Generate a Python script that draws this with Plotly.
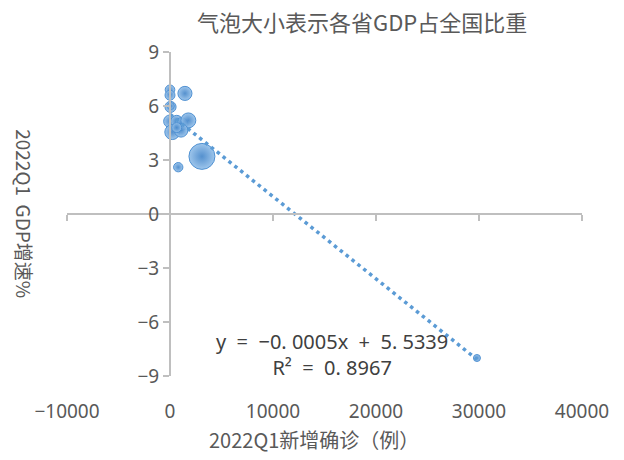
import numpy as np
import plotly.graph_objects as go

# 2022Q1 new confirmed cases, GDP growth (%), and GDP share of the nation (%)
new_cases = [0, 0, 1450, 50, 80, 0, 650, 1130, 1780, 220, 1070, 650, 3100, 800, 29800]
gdp_growth = [6.9, 6.6, 6.7, 5.95, 6.0, 5.15, 5.15, 5.0, 5.2, 4.55, 4.65, 4.8, 3.2, 2.6, -8.0]
gdp_share = [1.5, 1.6, 3.2, 2.0, 0.3, 2.6, 2.3, 2.6, 3.6, 3.6, 3.0, 1.6, 10.9, 1.4, 0.6]

x_ticks = [-10000, 0, 10000, 20000, 30000, 40000]
y_ticks = [-9, -6, -3, 0, 3, 6, 9]

title_text = "气泡大小表示各省GDP占全国比重"
x_title = "2022Q1新增确诊（例）"
y_title = "2022Q1&nbsp;&nbsp;GDP增速%"
eq_text = "y&nbsp;&nbsp;=&nbsp;&nbsp;−0.&nbsp;0005x&nbsp;&nbsp;+&nbsp;&nbsp;5.&nbsp;5339<br>R²&nbsp;&nbsp;=&nbsp;&nbsp;0.&nbsp;8967"

# linear trend through the provinces
slope, intercept = np.polyfit(new_cases, gdp_growth, 1)
trend_x = np.array([min(new_cases), max(new_cases)])
trend_y = slope * trend_x + intercept

BLUE = "#5b9bd5"
AXIS = "#bfbfbf"
TXT = "#595959"
CJK = "Noto Sans CJK SC"

fig = go.Figure()

fig.add_trace(go.Scatter(
    x=trend_x, y=trend_y, mode="lines", xaxis="x2",
    line=dict(color=BLUE, width=3.5, dash="3.5px,4px"),
    hoverinfo="skip", showlegend=False,
))

max_d = 26
fig.add_trace(go.Scatter(
    x=new_cases, y=gdp_growth, mode="markers",
    marker=dict(
        size=gdp_share, sizemode="area",
        sizeref=2.0 * max(gdp_share) / (max_d ** 2), sizemin=3.5,
        color="rgba(150,193,234,0.92)",
        gradient=dict(type="radial", color="rgba(70,135,202,0.92)"),
        line=dict(color="rgba(80,145,210,1)", width=1),
        opacity=1,
    ),
    showlegend=False,
))

axis_font = dict(family="Noto Sans, " + CJK, size=19, color=TXT)

fig.update_layout(
    width=624, height=460,
    margin=dict(l=67, r=42, t=52, b=84),
    paper_bgcolor="white", plot_bgcolor="white",
    xaxis=dict(
        range=[-10000, 40000], tickvals=x_ticks, ticktext=[str(v).replace("-", "−") for v in x_ticks],
        showline=False, zeroline=False, showgrid=False,
        ticks="outside", ticklen=18, tickcolor="rgba(0,0,0,0)",
        tickfont=axis_font,
    ),
    xaxis2=dict(
        range=[-10000, 40000], tickvals=x_ticks, overlaying="x", matches="x",
        anchor="free", position=0.5,
        showline=True, linecolor=AXIS, linewidth=2,
        ticks="outside", ticklen=6, tickwidth=2, tickcolor=AXIS,
        showticklabels=False, zeroline=False, showgrid=False,
    ),
    yaxis=dict(
        range=[-9, 9], tickvals=y_ticks,
        anchor="free", position=0.2,
        showline=True, linecolor=AXIS, linewidth=2,
        ticks="outside", ticklen=6, tickwidth=2, tickcolor=AXIS,
        zeroline=False, showgrid=False, tickfont=axis_font,
    ),
    annotations=[
        dict(text=title_text, xref="paper", yref="paper", x=0.573, y=1.096,
             showarrow=False, xanchor="center", yanchor="middle",
             font=dict(family=CJK, size=22, color=TXT)),
        dict(text=x_title, xref="paper", yref="paper", x=0.48, y=-0.195,
             showarrow=False, xanchor="center", yanchor="middle",
             font=dict(family=CJK, size=20, color=TXT)),
        dict(text=y_title, xref="paper", yref="paper", x=-0.082, y=0.5,
             showarrow=False, xanchor="center", yanchor="middle", textangle=90,
             font=dict(family=CJK, size=19, color=TXT)),
        dict(text=eq_text, xref="paper", yref="paper", x=0.515, y=0.065,
             showarrow=False, xanchor="center", yanchor="middle", align="center",
             font=dict(family="Noto Sans, " + CJK, size=20, color="#404040")),
    ],
)

fig.write_html("out.html")
